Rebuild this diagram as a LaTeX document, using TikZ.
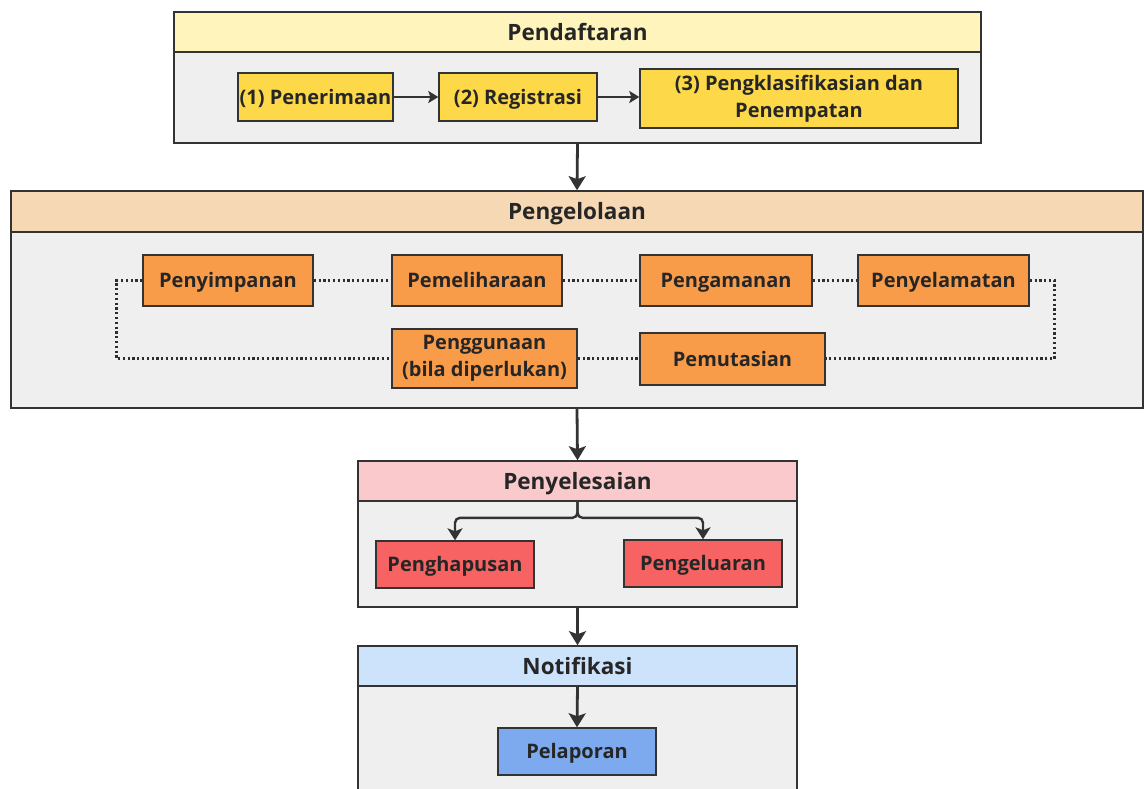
\documentclass[tikz,border=0pt]{standalone}
\usepackage{fontspec}
\setmainfont{Open Sans}
\definecolor{ink}{RGB}{51,51,51}
\definecolor{bodyGray}{RGB}{239,239,239}
\definecolor{yelHead}{RGB}{255,245,188}
\definecolor{yelBox}{RGB}{253,217,74}
\definecolor{oraHead}{RGB}{246,216,180}
\definecolor{oraBox}{RGB}{249,156,74}
\definecolor{pinkHead}{RGB}{249,201,203}
\definecolor{redBox}{RGB}{247,98,98}
\definecolor{blueHead}{RGB}{205,226,251}
\definecolor{blueBox}{RGB}{125,170,239}
\usetikzlibrary{arrows.meta,positioning,calc}
\tikzset{
  panel/.style={draw=ink, line width=1.6pt, fill=bodyGray, inner sep=0pt},
  head/.style={draw=ink, line width=1.6pt, inner sep=0pt, minimum height=40pt,
               font=\fontsize{22.5}{26}\selectfont\bfseries, text=black!85,
               text height=16.5pt, text depth=0pt},
  task/.style={draw=ink, line width=1.4pt, inner sep=1pt, align=center,
               font=\fontsize{20}{27}\selectfont\bfseries, text=black!85,
               text height=14.7pt, text depth=0pt},
  twoline/.style={text height=, text depth=},
  flow/.style={-{Stealth[length=14pt,width=17pt,inset=3pt]}, ink, line width=2.8pt},
  thin flow/.style={-{Stealth[length=10pt,width=12pt,inset=2pt]}, ink, line width=1.8pt},
  split flow/.style={-{Stealth[length=12pt,width=15pt,inset=3pt]}, ink, line width=2.4pt,
               rounded corners=5pt},
  loop/.style={ink!90!black, line width=2.8pt, dash pattern=on 2.2pt off 2.6pt},
}
\begin{document}
\begin{tikzpicture}[x=1pt,y=-1pt]
  \useasboundingbox (0,0) rectangle (1144,788);
  % Pendaftaran
  \node[panel, minimum width=807pt, minimum height=91pt] (pendB) at (577.5,97.5) {};
  \node[head, fill=yelHead, minimum width=807pt] (pendH) at (577.5,32) {Pendaftaran};
  \node[task, fill=yelBox, minimum width=155pt, minimum height=48pt] (terima) at (315.5,97) {(1) Penerimaan};
  \node[task, fill=yelBox, minimum width=158pt, minimum height=48pt] (regis) at (518,97) {(2) Registrasi};
  \node[task, twoline, fill=yelBox, minimum width=318pt, minimum height=59pt] (klas) at (799,98.5) {(3) Pengklasifikasian dan\\Penempatan};
  \draw[thin flow] (terima) -- (regis);
  \draw[thin flow] (regis) -- (regis -| klas.west);
  % Pengelolaan
  \node[panel, minimum width=1132pt, minimum height=176pt] (kelB) at (577,320) {};
  \node[head, fill=oraHead, minimum width=1132pt, minimum height=41pt] (kelH) at (577,211.5) {Pengelolaan};
  \node[task, fill=oraBox, minimum width=170pt, minimum height=51pt] (simpan) at (228,280.5) {Penyimpanan};
  \node[task, fill=oraBox, minimum width=170pt, minimum height=51pt] (pelihara) at (477,280.5) {Pemeliharaan};
  \node[task, fill=oraBox, minimum width=172pt, minimum height=51pt] (aman) at (726,280.5) {Pengamanan};
  \node[task, fill=oraBox, minimum width=171pt, minimum height=51pt] (selamat) at (943.5,280.5) {Penyelamatan};
  \node[task, twoline, fill=oraBox, minimum width=185pt, minimum height=59pt] (guna) at (484.5,358.5) {Penggunaan\\(bila diperlukan)};
  \node[task, fill=oraBox, minimum width=185pt, minimum height=52pt] (mutasi) at (732.5,359) {Pemutasian};
  \draw[loop] (simpan) -- (pelihara);
  \draw[loop] (pelihara) -- (aman);
  \draw[loop] (aman) -- (selamat);
  \draw[loop] (guna.east) -- (guna.east -| mutasi.west);
  \draw[loop] (simpan.west) -- ++(-26,0) |- (guna.west);
  \draw[loop] (selamat.east) -- ++(25,0) |- (guna.east -| mutasi.east);
  \draw[flow] (pendB.south) -- (kelH.north);
  % Penyelesaian
  \node[panel, minimum width=439pt, minimum height=106pt] (selB) at (577.5,554) {};
  \node[head, fill=pinkHead, minimum width=439pt] (selH) at (577.5,481) {Penyelesaian};
  \node[task, fill=redBox, minimum width=158pt, minimum height=47pt] (hapus) at (455,564.5) {Penghapusan};
  \node[task, fill=redBox, minimum width=158pt, minimum height=47pt] (keluar) at (703,563.5) {Pengeluaran};
  \draw[flow] (kelB.south) -- (selH.north);
  \draw[split flow] (selH.south) -- ++(0,16) -| (hapus.north);
  \draw[split flow] (selH.south) -- ++(0,16) -| (keluar.north);
  % Notifikasi
  \node[panel, minimum width=439pt, minimum height=120pt] (notB) at (577.5,746) {};
  \node[head, fill=blueHead, minimum width=439pt] (notH) at (577.5,666) {Notifikasi};
  \node[task, fill=blueBox, minimum width=158pt, minimum height=47pt] (lapor) at (577,751.5) {Pelaporan};
  \draw[flow] (selB.south) -- (notH.north);
  \draw[flow] (notH.south) -- (lapor.north);
\end{tikzpicture}
\end{document}
